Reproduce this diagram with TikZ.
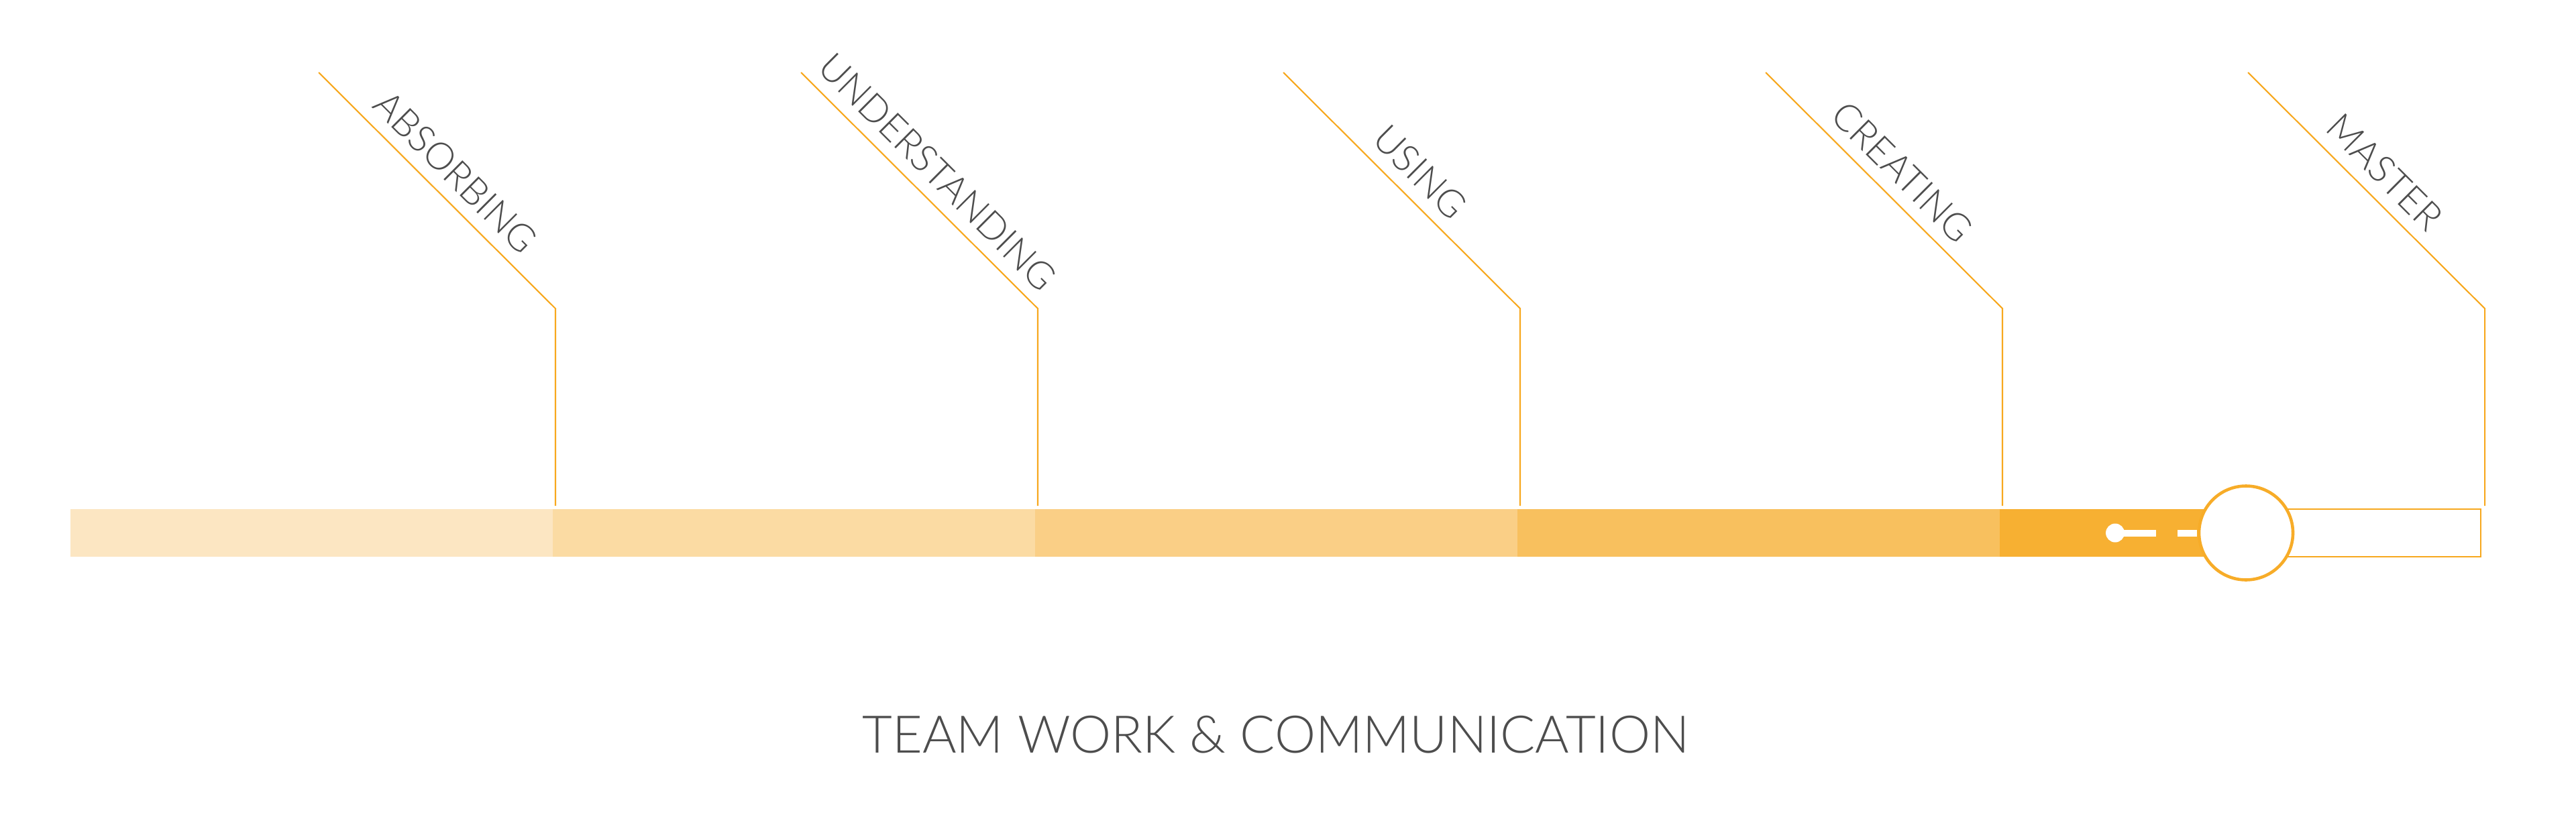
\documentclass[tikz,border=0pt]{standalone}
\usepackage{fontspec}
\setmainfont{Lato Light}
\usepackage{tikz}
\usetikzlibrary{positioning}
\definecolor{leaderorange}{RGB}{247,168,30}
\definecolor{ringorange}{RGB}{247,172,40}
\definecolor{levelone}{RGB}{252,230,194}
\definecolor{leveltwo}{RGB}{251,219,163}
\definecolor{levelthree}{RGB}{250,207,134}
\definecolor{levelfour}{RGB}{248,192,94}
\definecolor{levelfive}{RGB}{247,176,50}
\definecolor{textgray}{RGB}{77,77,77}
\tikzset{
  leader/.style={
    draw=leaderorange, line width=0.6pt
  },
  levellabel/.style={
    midway, sloped, above, inner sep=5pt,
    font=\fontsize{16}{19}\selectfont\color{textgray}
  },
  trackbox/.style={
    draw=leaderorange, line width=0.7pt
  },
  knob/.style={
    circle, draw=ringorange, fill=white, line width=1.3pt,
    minimum size=1.40cm, inner sep=0pt
  },
  scaletitle/.style={
    anchor=base, inner sep=0pt,
    font=\fontsize{22}{26}\selectfont\color{textgray}
  },
}

\begin{document}
\begin{tikzpicture}
    \useasboundingbox (0,0) rectangle (38.4,12.17);

    %% Progress bar
    \fill[levelone]   (1.05,3.87) rectangle (8.24,4.58);
    \fill[leveltwo]   (8.24,3.87) rectangle (15.43,4.58);
    \fill[levelthree] (15.43,3.87) rectangle (22.62,4.58);
    \fill[levelfour]  (22.62,3.87) rectangle (29.81,4.58);
    \fill[levelfive]  (29.81,3.87) rectangle (33.48,4.58);
    \draw[trackbox]   (33.48,3.87) rectangle (36.98,4.58);

    %% Slider handle
    \fill[white] (31.53,4.225) circle (0.14);
    \fill[white] (31.60,4.175) rectangle (32.14,4.275);
    \fill[white] (32.46,4.175) rectangle (32.75,4.275);
    \node[knob] (handle) at (33.48,4.225) {};

    %% Level leaders
    \coordinate (top1) at (4.75,11.09);
    \coordinate (knee1) at (8.28,7.57);
    \coordinate (foot1) at (8.28,4.63);
    \coordinate (top2) at (11.94,11.09);
    \coordinate (knee2) at (15.47,7.57);
    \coordinate (foot2) at (15.47,4.63);
    \coordinate (top3) at (19.13,11.09);
    \coordinate (knee3) at (22.66,7.57);
    \coordinate (foot3) at (22.66,4.63);
    \coordinate (top4) at (26.32,11.09);
    \coordinate (knee4) at (29.85,7.57);
    \coordinate (foot4) at (29.85,4.63);
    \coordinate (top5) at (33.51,11.09);
    \coordinate (knee5) at (37.04,7.57);
    \coordinate (foot5) at (37.04,4.63);

    \draw[leader] (top1) -- node[levellabel] (lvl1) {ABSORBING} (knee1) -- (foot1);
    \draw[leader] (top2) -- node[levellabel] (lvl2) {UNDERSTANDING} (knee2) -- (foot2);
    \draw[leader] (top3) -- node[levellabel] (lvl3) {USING} (knee3) -- (foot3);
    \draw[leader] (top4) -- node[levellabel] (lvl4) {CREATING} (knee4) -- (foot4);
    \draw[leader] (top5) -- node[levellabel] (lvl5) {MASTER} (knee5) -- (foot5);

    %% Title
    \node[scaletitle] (skill) at (19.02,0.95) {TEAM WORK \& COMMUNICATION};

  \end{tikzpicture}
\end{document}
